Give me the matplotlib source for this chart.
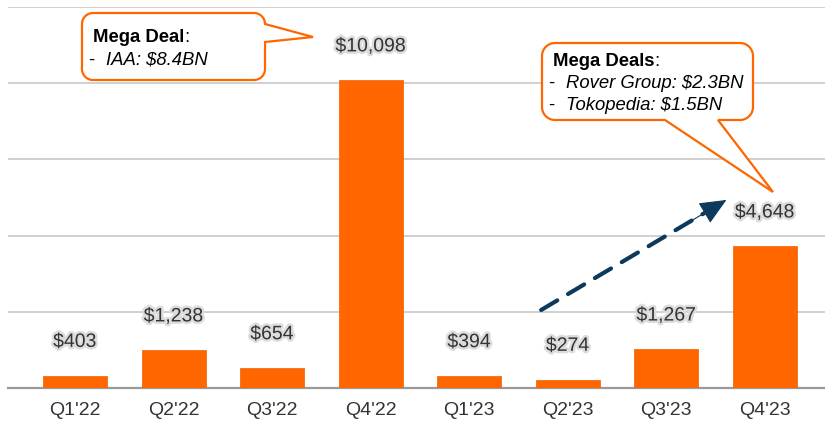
import matplotlib
matplotlib.use("Agg")
import matplotlib.pyplot as plt
import matplotlib.patheffects as pe
import matplotlib.transforms as mtransforms
from matplotlib.path import Path
from matplotlib.patches import PathPatch, FancyArrowPatch
from matplotlib.text import Annotation
import numpy as np

quarters = ["Q1'22", "Q2'22", "Q3'22", "Q4'22", "Q1'23", "Q2'23", "Q3'23", "Q4'23"]
values = [403, 1238, 654, 10098, 394, 274, 1267, 4648]
value_labels = ["$403", "$1,238", "$654", "$10,098", "$394", "$274", "$1,267", "$4,648"]
callout1_title = "Mega Deal"
callout1_items = ["IAA: $8.4BN"]
callout2_title = "Mega Deals"
callout2_items = ["Rover Group: $2.3BN", "Tokopedia: $1.5BN"]
trend_start = (4.73, 2560)
trend_end = (6.61, 6170)

plt.rcParams['font.family'] = ['Liberation Sans', 'DejaVu Sans']

W, H = 825, 421
fig = plt.figure(figsize=(W / 100, H / 100), dpi=100)
ax = fig.add_axes([8 / W, (H - 388) / H, 1 - 8 / W, (388 - 7) / H])

x = np.arange(len(quarters))
ax.bar(x, values, width=0.65, color="#FF6600", edgecolor="#f06000", linewidth=0.5, zorder=3)
ax.set_xlim(-0.68, 7.61)
ax.set_ylim(0, 12500)
ax.set_yticks([2500, 5000, 7500, 10000, 12500])
ax.yaxis.grid(True, color="#c8c8c8", linewidth=1.2)
ax.set_axisbelow(True)
ax.tick_params(axis="y", length=0, labelleft=False)
ax.set_xticks(x)
ax.set_xticklabels(quarters, fontsize=14, color="#333333")
ax.tick_params(axis="x", length=0, pad=10)
for s in ["top", "right", "left"]:
    ax.spines[s].set_visible(False)
ax.spines["bottom"].set_color("#9a9a9a")
ax.spines["bottom"].set_linewidth(1.6)

halo = [pe.withStroke(linewidth=3.5, foreground="#dcdcdc")]
for xi, v, lab in zip(x, values, value_labels):
    ax.annotate(lab, (xi, v), xytext=(0, 24), textcoords="offset points",
                ha="center", va="center", fontsize=14, color="#333333",
                path_effects=halo, zorder=5)

# dashed trend arrow: dashed shaft + solid head
navy = "#0d3a5c"
sx, sy = trend_start
ex, ey = trend_end
f = 0.88
mx, my = sx + (ex - sx) * f, sy + (ey - sy) * f
shaft = FancyArrowPatch((sx, sy), (mx, my), arrowstyle="-", color=navy, linewidth=3,
                        linestyle=(0, (4.5, 3)), shrinkA=0, shrinkB=0, zorder=6)
ax.add_patch(shaft)
head = FancyArrowPatch((sx + (ex - sx) * 0.8, sy + (ey - sy) * 0.8), (ex, ey),
                       arrowstyle="-|>,head_length=17,head_width=7.5", mutation_scale=1,
                       color=navy, linewidth=0.8, shrinkA=0, shrinkB=0, zorder=6)
ax.add_patch(head)

# pixel transform (top-left origin)
pix = mtransforms.Affine2D().scale(1, -1).translate(0, H)


def rounded_rect_path(x0, y0, x1, y1, r, notch=None):
    verts, codes = [], []
    k = 0.5523 * r

    def add(pt, code):
        verts.append(pt)
        codes.append(code)

    add((x0 + r, y0), Path.MOVETO)
    add((x1 - r, y0), Path.LINETO)
    add((x1 - r + k, y0), Path.CURVE4); add((x1, y0 + r - k), Path.CURVE4); add((x1, y0 + r), Path.CURVE4)
    if notch and notch[0] == 'right':
        _, ya, yb, tip = notch
        add((x1, ya), Path.LINETO)
        add(tip, Path.LINETO)
        add((x1, yb), Path.LINETO)
    add((x1, y1 - r), Path.LINETO)
    add((x1, y1 - r + k), Path.CURVE4); add((x1 - r + k, y1), Path.CURVE4); add((x1 - r, y1), Path.CURVE4)
    if notch and notch[0] == 'bottom':
        _, xa, xb, tip = notch
        add((xb, y1), Path.LINETO)
        add(tip, Path.LINETO)
        add((xa, y1), Path.LINETO)
    add((x0 + r, y1), Path.LINETO)
    add((x0 + r - k, y1), Path.CURVE4); add((x0, y1 - r + k), Path.CURVE4); add((x0, y1 - r), Path.CURVE4)
    add((x0, y0 + r), Path.LINETO)
    add((x0, y0 + r - k), Path.CURVE4); add((x0 + r - k, y0), Path.CURVE4); add((x0 + r, y0), Path.CURVE4)
    add((x0 + r, y0), Path.CLOSEPOLY)
    return Path(verts, codes)


p1 = rounded_rect_path(82, 13, 265, 80, 11, notch=('right', 24, 42, (313, 37)))
fig.patches.append(PathPatch(p1, transform=pix, facecolor="white", edgecolor="#FF6600",
                             linewidth=1.6, zorder=10))
p2 = rounded_rect_path(542, 43, 753, 120, 13, notch=('bottom', 665, 718, (773, 192)))
fig.patches.append(PathPatch(p2, transform=pix, facecolor="white", edgecolor="#FF6600",
                             linewidth=1.6, zorder=10))

FS = 13.3


def title_with_colon(xp, yp, title):
    t = fig.text(xp, yp, title, transform=pix, fontsize=FS, fontweight="bold",
                 color="black", va="baseline", ha="left", zorder=11)
    fig.add_artist(Annotation(":", xy=(1, 0), xycoords=t, fontsize=FS, color="black",
                              va="bottom", ha="left", zorder=11))


def bullet(xd, xt, yp, txt):
    fig.text(xd, yp, "-", transform=pix, fontsize=FS, color="black", va="baseline",
             ha="left", zorder=11)
    fig.text(xt, yp, txt, transform=pix, fontsize=FS, style="italic", color="black",
             va="baseline", ha="left", zorder=11)


title_with_colon(93, 42, callout1_title)
for i, item in enumerate(callout1_items):
    bullet(88, 106, 65 + 22 * i, item)

title_with_colon(553, 66, callout2_title)
for i, item in enumerate(callout2_items):
    bullet(548, 566, 88 + 22 * i, item)

fig.savefig("out.png", dpi=100)
